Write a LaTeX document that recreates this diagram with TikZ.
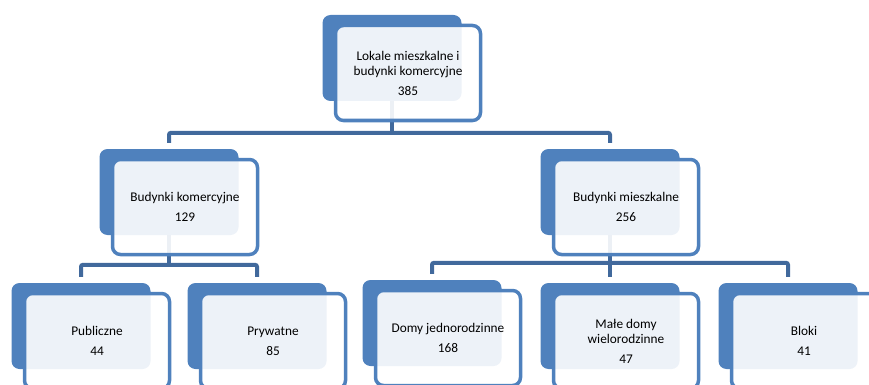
\documentclass[tikz,border=0pt]{standalone}
\usepackage{fontspec}
\setmainfont{Carlito}
\begin{document}
\begin{tikzpicture}[x=1pt,y=-1pt,
  back/.style={fill=boxblue,rounded corners=8pt,minimum width=139pt,minimum height=86pt,inner sep=0pt},
  front/.style={draw=boxblue,line width=3.5pt,fill=white,fill opacity=0.9,text opacity=1,rounded corners=8pt,minimum width=145pt,minimum height=95pt,inner sep=0pt,align=center,font=\fontsize{13.3}{15}\selectfont},
  conn/.style={draw=linkblue,line width=4pt,rounded corners=2pt}]
\definecolor{boxblue}{HTML}{4F81BD}
\definecolor{linkblue}{HTML}{41699C}
\useasboundingbox (0,0) rectangle (869,385);
\node[back] (topb) at (392,58) {};
\node[back] (bkb) at (169,192) {};
\node[back] (bmb) at (610,192) {};
\node[back] (pubb) at (81,326) {};
\node[back] (pryb) at (257,326) {};
\node[back] (djb) at (432,323) {};
\node[back] (mdb) at (610,326) {};
\node[back] (blb) at (788,326) {};
\draw[conn] (topb.south) -- ++(0,32);
\draw[conn] ([yshift=6pt]bkb.north) -- ++(0,-10) -| ([yshift=6pt]bmb.north);
\draw[conn] (bkb.south) -- ++(0,30);
\draw[conn] ([yshift=6pt]pubb.north) -- ++(0,-12) -| ([yshift=6pt]pryb.north);
\draw[conn] (bmb.south) -- ([yshift=6pt]mdb.north);
\draw[conn] ([yshift=6pt]djb.north) -- ++(0,-11) -| ([yshift=6pt]blb.north);
\node[front] (top) at ([shift={(16,15)}]topb.center) {Lokale mieszkalne i\\budynki komercyjne\\[5pt]385};
\node[front] (bk) at ([shift={(16,15)}]bkb.center) {Budynki komercyjne\\[5pt]129};
\node[front] (bm) at ([shift={(16,15)}]bmb.center) {Budynki mieszkalne\\[5pt]256};
\node[front] (pub) at ([shift={(16,15)}]pubb.center) {Publiczne\\[5pt]44};
\node[front] (pry) at ([shift={(16,15)}]pryb.center) {Prywatne\\[5pt]85};
\node[front] (dj) at ([shift={(16,15)}]djb.center) {Domy jednorodzinne\\[5pt]168};
\node[front] (md) at ([shift={(16,15)}]mdb.center) {Małe domy\\wielorodzinne\\[5pt]47};
\node[front] (bl) at ([shift={(16,15)}]blb.center) {Bloki\\[5pt]41};
\end{tikzpicture}
\end{document}
